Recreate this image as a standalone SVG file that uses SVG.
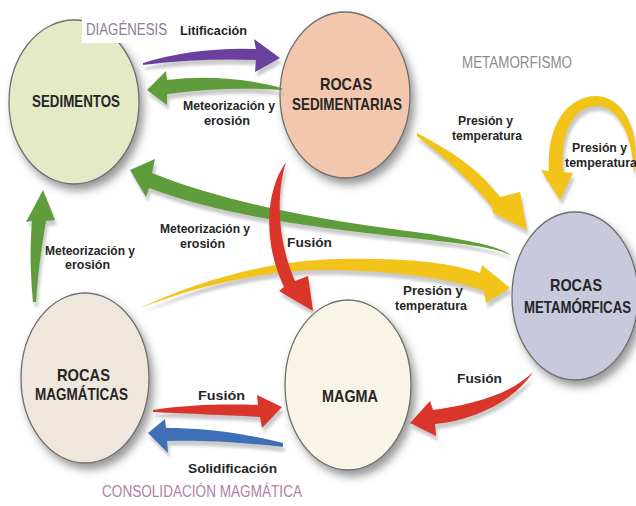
<svg xmlns="http://www.w3.org/2000/svg" width="636" height="506" viewBox="0 0 636 506">
<defs>
<style>
.node{stroke:#6f6f6f;stroke-width:1.3;filter:url(#ds)}
.nl{font-family:"Liberation Sans",Arial,sans-serif;font-weight:bold;font-size:17px;fill:#262626}
.el{font-family:"Liberation Sans",Arial,sans-serif;font-weight:bold;font-size:13.5px;fill:#262626}
.thin{font-family:"Liberation Sans",Arial,sans-serif;font-size:16px}
.sh{fill:#b4b4b4;opacity:.7;filter:url(#bl)}
</style>
<filter id="ds" x="-20%" y="-20%" width="150%" height="150%">
<feDropShadow dx="4" dy="6" stdDeviation="4" flood-color="#444" flood-opacity=".55"/>
</filter>
<filter id="bl" x="-10%" y="-20%" width="120%" height="140%">
<feGaussianBlur stdDeviation="1.5"/>
</filter>
<path id="a1" d="M143,63 Q195,47 256,49 L254,39 L280,58 L255,72 L256,60 Q200,58 143,65 Z"/>
<path id="a2" d="M282,88 Q225,73 167,80 L166,71 L147,90 L167,105 L167,94 Q225,86 282,90 Z"/>
<path id="a3" d="M512,256 C500,246 470,241 430,234 C370,226 250,212 152,173 L155,159 L130,170 L146,197 L149,188 C240,222 360,232 430,240 C475,245 500,249 512,256 Z"/>
<path id="a4" d="M286,162 C266,190 262,240 284,287 L279,291 L313,311 L308,276 L295,281 C277,240 276,195 286,162 Z"/>
<path id="a5" d="M140,308 C200,280 270,260 340,259 C400,258 450,262 480,273 L482,265 L510,288 L486,303 L484,291 C450,278 400,272 340,270 C270,268 200,285 140,308 Z"/>
<path id="a6" d="M417,133 C450,150 480,170 500,197 L520,192 L527,230 L493,213 L492,207 C470,180 445,158 417,136 Z"/>
<path id="a7" d="M634,175 C642,125 620,96 596,96 C568,96 546,125 549,171 L541,170 L560,200 L573,173 L563,172 C560,130 575,106 597,106 C615,106 632,128 634,175 Z"/>
<path id="a8" d="M33,302 C30,270 30,245 32,221 L26,222 L43,190 L55,220 L46,221 C42,245 38,270 36,302 Z"/>
<path id="a9" d="M153,410 C190,404 230,404 258,405 L257,395 L282,407 L262,428 L260,417 C230,415 190,414 153,412 Z"/>
<path id="a10" d="M283,443 C240,432 200,428 166,428 L165,419 L148,433 L168,453 L167,441 C200,440 240,442 283,447 Z"/>
<path id="a11" d="M533,372 C510,395 470,405 433,410 L430,401 L410,423 L436,436 L435,424 C475,420 515,400 533,372 Z"/>
</defs>
<rect width="636" height="506" fill="#ffffff"/>

<g id="n-sedimentos">
<ellipse class="node" cx="74" cy="102" rx="65" ry="82" fill="#e5eac6"/>
<text class="nl" x="32" y="107" textLength="88" lengthAdjust="spacingAndGlyphs">SEDIMENTOS</text>
</g>
<g id="n-sedimentarias">
<ellipse class="node" cx="345" cy="95" rx="65" ry="83" fill="#f3c7ad"/>
<text class="nl" x="320" y="90" textLength="52" lengthAdjust="spacingAndGlyphs">ROCAS</text>
<text class="nl" x="292" y="110" textLength="110" lengthAdjust="spacingAndGlyphs">SEDIMENTARIAS</text>
</g>
<g id="n-metamorficas">
<ellipse class="node" cx="575" cy="296" rx="63" ry="84" fill="#c9c9de"/>
<text class="nl" x="550" y="291" textLength="52" lengthAdjust="spacingAndGlyphs">ROCAS</text>
<text class="nl" x="524" y="313" textLength="107" lengthAdjust="spacingAndGlyphs">METAMÓRFICAS</text>
</g>
<g id="n-magmaticas">
<ellipse class="node" cx="85" cy="378" rx="64" ry="85" fill="#efe6dc"/>
<text class="nl" x="57" y="381" textLength="53" lengthAdjust="spacingAndGlyphs">ROCAS</text>
<text class="nl" x="35" y="400" textLength="93" lengthAdjust="spacingAndGlyphs">MAGMÁTICAS</text>
</g>
<g id="n-magma">
<ellipse class="node" cx="348" cy="385" rx="63" ry="85" fill="#f8f4e6"/>
<text class="nl" x="322" y="402" textLength="56" lengthAdjust="spacingAndGlyphs">MAGMA</text>
</g>

<g id="connectors">
<g transform="translate(2,5)">
<use href="#a1" class="sh"/><use href="#a2" class="sh"/><use href="#a3" class="sh"/><use href="#a4" class="sh"/>
<use href="#a5" class="sh"/><use href="#a6" class="sh"/><use href="#a7" class="sh"/><use href="#a8" class="sh"/>
<use href="#a9" class="sh"/><use href="#a10" class="sh"/><use href="#a11" class="sh"/>
</g>
<use href="#a1" fill="#6a3f9e"/>
<use href="#a2" fill="#5f9c3b"/>
<use href="#a3" fill="#5f9c3b"/>
<use href="#a5" fill="#f2c419"/>
<use href="#a4" fill="#d9352a"/>
<use href="#a6" fill="#f2c419"/>
<use href="#a7" fill="#f2c419"/>
<use href="#a8" fill="#5f9c3b"/>
<use href="#a9" fill="#d9352a"/>
<use href="#a10" fill="#3f6fb6"/>
<use href="#a11" fill="#d9352a"/>
</g>

<g id="labels">
<rect x="82" y="16" width="172" height="27" fill="#ffffff"/>
<text class="thin" x="86" y="35" fill="#8f7b98" textLength="81" lengthAdjust="spacingAndGlyphs">DIAGÉNESIS</text>
<text class="el" x="180" y="35" textLength="67" lengthAdjust="spacingAndGlyphs">Litificación</text>
<text class="el" x="183" y="110" textLength="92" lengthAdjust="spacingAndGlyphs">Meteorización y</text>
<text class="el" x="204" y="125" textLength="46" lengthAdjust="spacingAndGlyphs">erosión</text>
<text class="thin" x="462" y="68" fill="#8c8c8c" textLength="110" lengthAdjust="spacingAndGlyphs">METAMORFISMO</text>
<text class="el" x="458" y="125" textLength="55" lengthAdjust="spacingAndGlyphs">Presión y</text>
<text class="el" x="452" y="140" textLength="70" lengthAdjust="spacingAndGlyphs">temperatura</text>
<text class="el" x="572" y="152" textLength="55" lengthAdjust="spacingAndGlyphs">Presión y</text>
<text class="el" x="565" y="167" textLength="72" lengthAdjust="spacingAndGlyphs">temperatura</text>
<text class="el" x="160" y="233" textLength="90" lengthAdjust="spacingAndGlyphs">Meteorización y</text>
<text class="el" x="180" y="248" textLength="45" lengthAdjust="spacingAndGlyphs">erosión</text>
<text class="el" x="287" y="247" font-size="15.5" textLength="45" lengthAdjust="spacingAndGlyphs">Fusión</text>
<text class="el" x="45" y="255" textLength="90" lengthAdjust="spacingAndGlyphs">Meteorización y</text>
<text class="el" x="65" y="269" textLength="45" lengthAdjust="spacingAndGlyphs">erosión</text>
<text class="el" x="403" y="295" textLength="60" lengthAdjust="spacingAndGlyphs">Presión y</text>
<text class="el" x="395" y="310" textLength="72" lengthAdjust="spacingAndGlyphs">temperatura</text>
<text class="el" x="457" y="383" font-size="15.5" textLength="45" lengthAdjust="spacingAndGlyphs">Fusión</text>
<text class="el" x="198" y="400" font-size="15.5" textLength="47" lengthAdjust="spacingAndGlyphs">Fusión</text>
<text class="el" x="188" y="473" font-size="15.5" textLength="89" lengthAdjust="spacingAndGlyphs">Solidificación</text>
<text class="thin" x="102" y="497" fill="#b07ea8" textLength="200" lengthAdjust="spacingAndGlyphs">CONSOLIDACIÓN MAGMÁTICA</text>
</g>
</svg>
